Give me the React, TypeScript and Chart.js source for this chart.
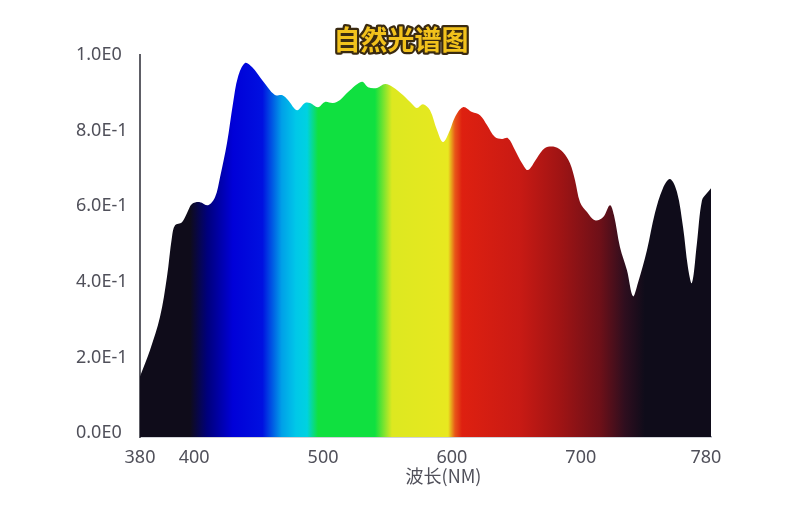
import React, { useEffect, useRef } from "react";
import { Chart, registerables } from "chart.js";

Chart.register(...registerables);

const chartTitle = "自然光谱图";
const xAxisTitle = "波长(NM)";

const wavelengths = [
  358, 365.8, 373.5, 378.9, 382.8, 385.2, 390.6, 394.5, 398.3, 404.5,
  410.8, 416.2, 420.1, 425.5, 430.2, 434.0, 439.5, 444.9, 452.7, 462.7,
  468.2, 472.8, 479.8, 486.0, 489.9, 496.1, 501.5, 507.7, 513.2, 519.4,
  530.2, 534.9, 541.9, 548.1, 554.3, 562.0, 569.8, 572.9, 577.6, 583.0,
  588.4, 593.1, 598.5, 602.4, 608.6, 615.6, 621.8, 627.2, 633.4, 638.8,
  643.5, 648.9, 654.4, 659.0, 666.0, 672.2, 680.0, 686.2, 691.6, 695.5,
  699.4, 704.8, 711.0, 717.2, 722.6, 725.7, 730.4, 735.8, 740.5, 744.3,
  751.3, 757.5, 763.7, 769.2, 774.6, 779.3, 783.1, 786.2, 790.1, 794.0,
  797.9, 801.0,
];

const intensity = [
  0.150, 0.220, 0.307, 0.413, 0.519, 0.550, 0.558, 0.582, 0.606, 0.611,
  0.603, 0.624, 0.677, 0.767, 0.873, 0.942, 0.979, 0.968, 0.934, 0.894,
  0.894, 0.881, 0.854, 0.873, 0.873, 0.862, 0.876, 0.873, 0.881, 0.902,
  0.929, 0.915, 0.913, 0.923, 0.915, 0.894, 0.868, 0.860, 0.870, 0.854,
  0.802, 0.770, 0.802, 0.836, 0.862, 0.849, 0.841, 0.815, 0.783, 0.778,
  0.780, 0.749, 0.714, 0.696, 0.728, 0.754, 0.757, 0.743, 0.714, 0.669,
  0.611, 0.585, 0.563, 0.571, 0.603, 0.577, 0.492, 0.431, 0.362, 0.397,
  0.484, 0.582, 0.648, 0.672, 0.638, 0.545, 0.439, 0.397, 0.503, 0.616,
  0.635, 0.648,
];

const xMin = 358;
const xMax = 801;
const xTickValues = [358, 400, 500, 600, 700, 797];
const xTickLabels = ["380", "400", "500", "600", "700", "780"];

const yMin = -0.01;
const yMax = 1.0;
const yTickValues = [0, 0.2, 0.4, 0.6, 0.8, 1.0];
const yTickLabels = ["0.0E0", "2.0E-1", "4.0E-1", "6.0E-1", "8.0E-1", "1.0E0"];

// spectrum colour stops (wavelength units of the x axis)
const spectrumStops = [
  396.8, 410.0, 430.0, 453.0, 468.0, 479.0, 487.6, 496.1, 540.3, 553.5,
  597.0, 602.4, 607.8, 652.8, 683.8, 714.9, 734.3, 749.8,
];
const spectrumColors = [
  "#0f0c1a", "#00007a", "#0000d8", "#0010e0", "#00a0e8", "#00c8e8",
  "#00d2e0", "#10e040", "#10e040", "#dde820", "#e8e820", "#e85518",
  "#de2010", "#c81a14", "#a01414", "#6e1018", "#2e0e1e", "#0f0c1a",
];

const textPlugin = {
  id: "textPlugin",
  afterDraw(chart: any) {
    const { ctx, chartArea, width } = chart;
    ctx.save();
    ctx.textAlign = "center";
    ctx.textBaseline = "middle";
    ctx.font = "bold 27px 'Noto Sans CJK SC', 'Noto Sans'";
    ctx.lineJoin = "round";
    ctx.lineWidth = 4.5;
    ctx.strokeStyle = "#3a2a10";
    ctx.strokeText(chartTitle, width / 2 + 1, 40);
    ctx.fillStyle = "#f2c21c";
    ctx.fillText(chartTitle, width / 2 + 1, 40);

    ctx.font = "18px 'Noto Sans CJK SC', 'Noto Sans'";
    ctx.fillStyle = "#50505a";
    ctx.fillText(xAxisTitle, (chartArea.left + chartArea.right) / 2 + 18, 476);
    ctx.restore();
  },
};

export default function App() {
  const canvasRef = useRef<HTMLCanvasElement | null>(null);

  useEffect(() => {
    document.body.style.margin = "0";
    const canvas = canvasRef.current;
    if (!canvas) return;

    const chart = new Chart(canvas, {
      type: "line",
      data: {
        datasets: [
          {
            data: wavelengths.map((w, i) => ({ x: w, y: intensity[i] })),
            borderWidth: 0,
            borderColor: "rgba(0,0,0,0)",
            pointRadius: 0,
            tension: 0.35,
            fill: "start",
            backgroundColor: (context: any) => {
              const c = context.chart;
              const area = c.chartArea;
              const xs = c.scales && c.scales.x;
              if (!area || !xs) return "#0f0c1a";
              const g = c.ctx.createLinearGradient(area.left, 0, area.right, 0);
              const span = area.right - area.left;
              spectrumStops.forEach((s, i) => {
                const p = (xs.getPixelForValue(s) - area.left) / span;
                g.addColorStop(Math.min(1, Math.max(0, p)), spectrumColors[i]);
              });
              return g;
            },
          },
        ],
      },
      options: {
        responsive: false,
        animation: false,
        layout: { padding: { left: 76, right: 89, top: 55, bottom: 0 } },
        plugins: {
          legend: { display: false },
          tooltip: { enabled: false },
          title: { display: false },
        },
        scales: {
          x: {
            type: "linear",
            min: xMin,
            max: xMax,
            grid: { display: false, drawTicks: false },
            border: { display: true, color: "#a4a8b4", width: 1.5 },
            afterBuildTicks: (scale: any) => {
              scale.ticks = xTickValues.map((v) => ({ value: v }));
            },
            afterFit: (scale: any) => {
              scale.height = 75;
            },
            ticks: {
              autoSkip: false,
              maxRotation: 0,
              padding: 10,
              color: "#50505a",
              font: { family: "'Noto Sans'", size: 18 },
              callback: (_v: any, i: number) => xTickLabels[i],
            },
          },
          y: {
            type: "linear",
            min: yMin,
            max: yMax,
            grid: { display: false, drawTicks: false },
            border: { display: true, color: "#5e5e66", width: 2 },
            afterBuildTicks: (scale: any) => {
              scale.ticks = yTickValues.map((v) => ({ value: v }));
            },
            afterFit: (scale: any) => {
              scale.width = 64;
            },
            ticks: {
              autoSkip: false,
              crossAlign: "far",
              color: "#50505a",
              font: { family: "'Noto Sans'", size: 18 },
              callback: (_v: any, i: number) => yTickLabels[i],
            },
          },
        },
      },
      plugins: [textPlugin],
    });

    return () => chart.destroy();
  }, []);

  return (
    <div style={{ width: 800, height: 512, position: "relative", background: "#ffffff" }}>
      <canvas ref={canvasRef} width={800} height={512} />
    </div>
  );
}
